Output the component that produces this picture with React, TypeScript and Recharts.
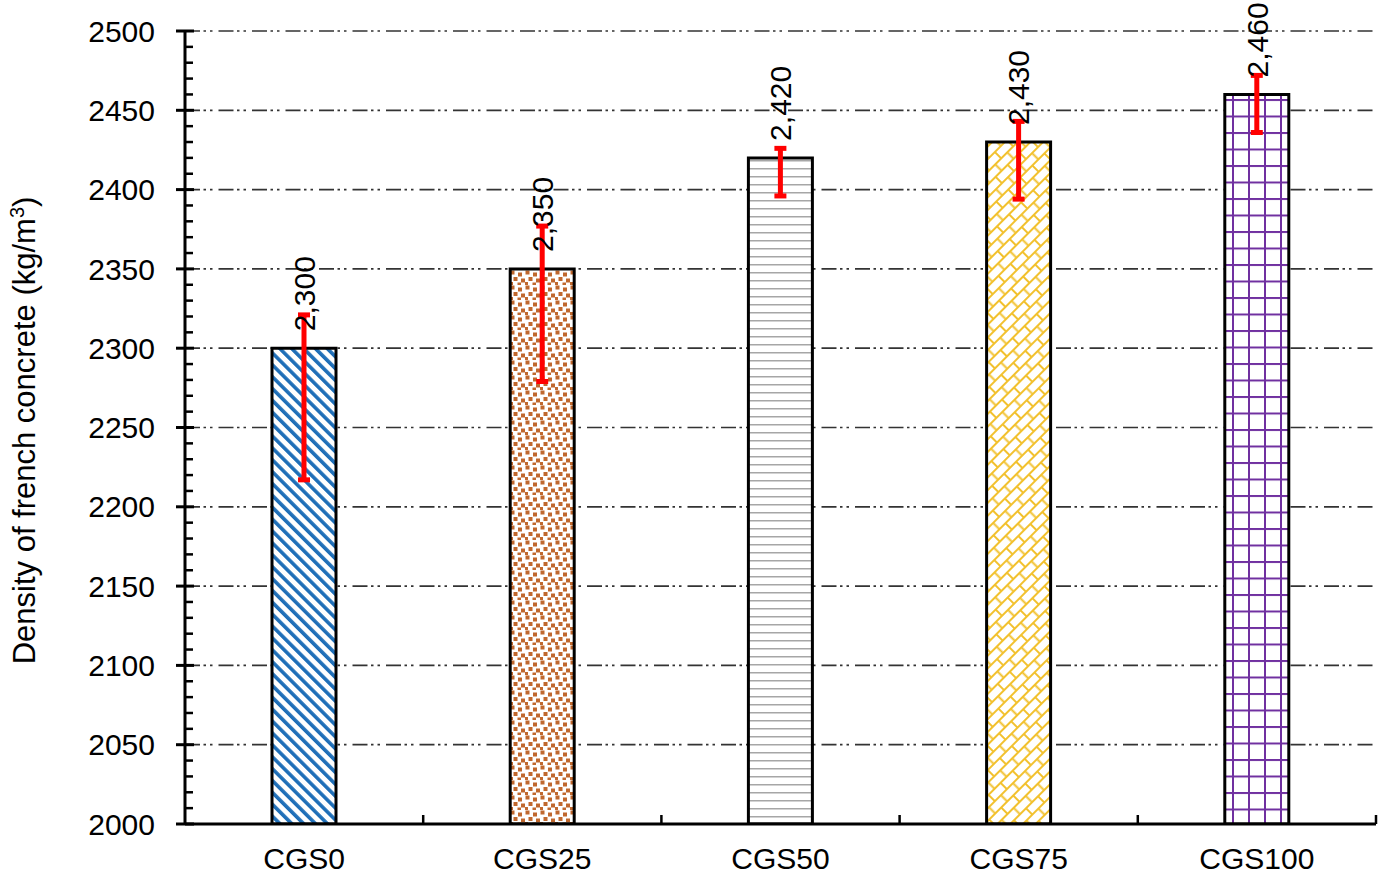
import React from 'react';
import { Bar, BarChart, CartesianGrid, Cell, ErrorBar, LabelList, XAxis, YAxis } from 'recharts';

const categories = ['CGS0', 'CGS25', 'CGS50', 'CGS75', 'CGS100'];
const density = [2300, 2350, 2420, 2430, 2460];
const errLow = [83, 71, 24, 36, 24];
const errHigh = [21, 27, 6, 13, 12];
const majorTicks = [2000, 2050, 2100, 2150, 2200, 2250, 2300, 2350, 2400, 2450, 2500];
const minorStep = 10;

const fills = ['url(#pCGS0)', 'url(#pCGS25)', 'url(#pCGS50)', 'url(#pCGS75)', 'url(#pCGS100)'];

const data = categories.map((name, i) => ({
  name,
  value: density[i],
  err: [errLow[i], errHigh[i]],
}));

const allTicks: number[] = [];
for (let v = majorTicks[0]; v <= majorTicks[majorTicks.length - 1]; v += minorStep) allTicks.push(v);

const W = 1382;
const H = 876;
const Y_AXIS_W = 185;
const RIGHT = 6;
const HALF_BAND = (W - Y_AXIS_W - RIGHT) / categories.length / 2;
const FONT = '"Liberation Sans", Arial, sans-serif';

function YTick(props: any) {
  const { x, y, payload } = props;
  const v = payload.value;
  const major = v % 50 === 0;
  return (
    <g>
      {major ? (
        <>
          <line x1={x - 9} x2={x + 9} y1={y} y2={y} stroke="#000" strokeWidth={3} />
          <text x={x - 30} y={y} dy="0.355em" textAnchor="end" fontSize={30} fill="#000" fontFamily={FONT}>
            {v}
          </text>
        </>
      ) : (
        <line x1={x} x2={x + 8} y1={y} y2={y} stroke="#000" strokeWidth={2.5} />
      )}
    </g>
  );
}

function XTick(props: any) {
  const { x, y, payload } = props;
  return (
    <g>
      <line x1={x + HALF_BAND} x2={x + HALF_BAND} y1={y} y2={y - 9} stroke="#000" strokeWidth={2.5} />
      <text x={x} y={y + 45} textAnchor="middle" fontSize={30} fill="#000" fontFamily={FONT}>
        {payload.value}
      </text>
    </g>
  );
}

function ValueLabel(props: any) {
  const { x, y, width, value } = props;
  const cx = x + width / 2;
  const ty = y - 17;
  return (
    <text
      x={cx}
      y={ty}
      dy="0.36em"
      transform={`rotate(-90 ${cx} ${ty})`}
      textAnchor="start"
      fontSize={30}
      fill="#000"
      fontFamily={FONT}
    >
      {Number(value).toLocaleString('en-US')}
    </text>
  );
}

function AxisTitle(props: any) {
  const vb = props.viewBox || { x: 0, y: 31, width: 185, height: 793 };
  const bx = 35;
  const by = vb.y + vb.height / 2 + 3;
  return (
    <text
      x={bx}
      y={by}
      transform={`rotate(-90 ${bx} ${by})`}
      textAnchor="middle"
      fontSize={31}
      fill="#000"
      fontFamily={FONT}
    >
      Density of french concrete (kg/m
      <tspan dy={-11} fontSize={20}>3</tspan>
      <tspan dy={11}>)</tspan>
    </text>
  );
}

export default function App() {
  return (
    <div style={{ position: 'absolute', left: 0, top: 0, background: '#fff' }}>
      <BarChart
        width={W}
        height={H}
        data={data}
        margin={{ top: 31, right: RIGHT, left: 0, bottom: 0 }}
        style={{ fontFamily: FONT }}
      >
        <defs>
          <pattern id="pCGS0" patternUnits="userSpaceOnUse" width={8.4} height={8.4} patternTransform="rotate(-45)">
            <rect width={8.4} height={8.4} fill="#fff" />
            <rect x={0} y={0} width={3.6} height={8.4} fill="#1f6fb8" />
          </pattern>
          <pattern id="pCGS25" patternUnits="userSpaceOnUse" width={15} height={15}>
            <rect width={15} height={15} fill="#fff" />
            <rect x={0.5} y={0.5} width={4} height={4} fill="#c0682e" />
            <rect x={8} y={2.5} width={4} height={4} fill="#c0682e" />
            <rect x={3.5} y={7} width={4} height={4} fill="#c0682e" />
            <rect x={11} y={8.5} width={4} height={4} fill="#c0682e" />
            <rect x={0} y={12} width={3} height={3} fill="#c0682e" />
            <rect x={7.5} y={12.5} width={3.5} height={2.5} fill="#c0682e" />
          </pattern>
          <pattern id="pCGS50" patternUnits="userSpaceOnUse" width={8} height={8}>
            <rect width={8} height={8} fill="#fff" />
            <rect x={0} y={0} width={8} height={1.5} fill="#a6a6a6" />
          </pattern>
          <pattern id="pCGS75" patternUnits="userSpaceOnUse" width={17} height={18} patternTransform="rotate(-45)">
            <rect width={17} height={18} fill="#fff" />
            <rect x={0} y={0} width={17} height={2} fill="#f2c12e" />
            <rect x={0} y={9} width={17} height={2} fill="#f2c12e" />
            <rect x={0} y={0} width={2} height={9} fill="#f2c12e" />
            <rect x={8.5} y={9} width={2} height={9} fill="#f2c12e" />
          </pattern>
          <pattern id="pCGS100" patternUnits="userSpaceOnUse" width={16} height={16.5}>
            <rect width={16} height={16.5} fill="#fff" />
            <rect x={0} y={0} width={2} height={16.5} fill="#7030a0" />
            <rect x={0} y={0} width={16} height={2} fill="#7030a0" />
          </pattern>
        </defs>
        <CartesianGrid
          vertical={false}
          horizontalValues={majorTicks}
          stroke="#333"
          strokeWidth={1.7}
          strokeDasharray="15 3.5 2.5 4 2.5 6"
        />
        <XAxis
          dataKey="name"
          height={H - 31 - 793}
          axisLine={{ stroke: '#000', strokeWidth: 3 }}
          tickLine={false}
          tickSize={0}
          tickMargin={0}
          tick={<XTick />}
          interval={0}
        />
        <YAxis
          type="number"
          domain={[majorTicks[0], majorTicks[majorTicks.length - 1]]}
          ticks={allTicks}
          interval={0}
          width={Y_AXIS_W}
          axisLine={{ stroke: '#000', strokeWidth: 3 }}
          tickLine={false}
          tickSize={0}
          tickMargin={0}
          tick={<YTick />}
          allowDataOverflow
          label={<AxisTitle />}
        />
        <Bar dataKey="value" barSize={64} stroke="#000" strokeWidth={3} isAnimationActive={false}>
          {data.map((d, i) => (
            <Cell key={d.name} fill={fills[i]} />
          ))}
          <LabelList dataKey="value" content={<ValueLabel />} />
          <ErrorBar dataKey="err" stroke="#ff0000" strokeWidth={5} width={6} isAnimationActive={false} />
        </Bar>
      </BarChart>
    </div>
  );
}
